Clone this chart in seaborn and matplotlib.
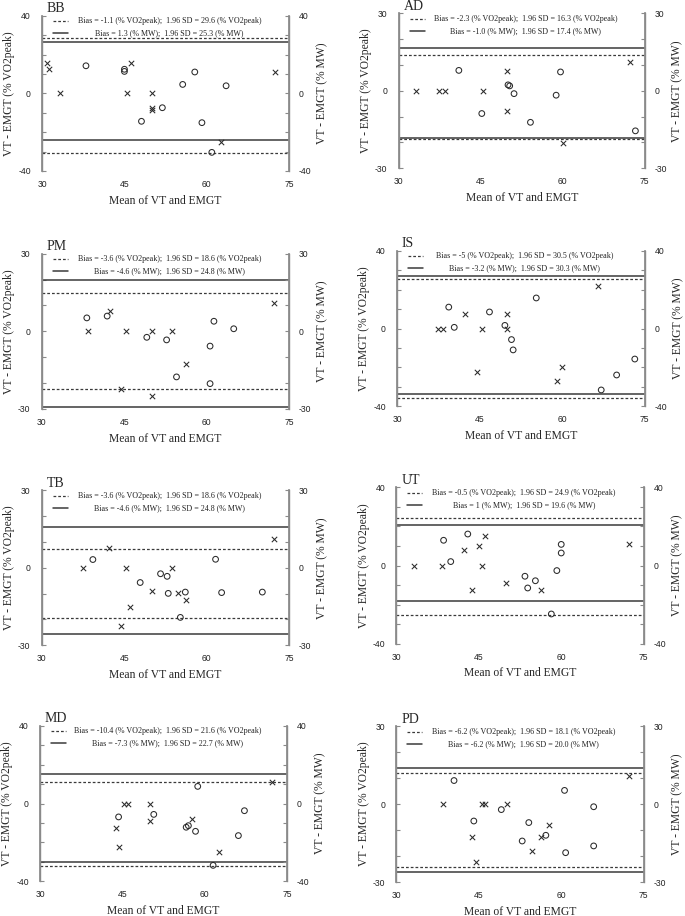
import matplotlib
matplotlib.use("Agg")
import matplotlib.pyplot as plt
import seaborn as sns
import pandas as pd

sns.set_theme(style="ticks")
plt.rcParams['font.family'] = ['Liberation Serif', 'DejaVu Serif']

# ---------------- data ----------------
panels = ["BB", "AD", "PM", "IS", "TB", "UT", "MD", "PD"]
y_limits = [40, 30, 30, 40, 30, 40, 40, 30]
x_ticks = [30, 45, 60, 75]

# crosses
bb_x_mean = [30.9, 31.3, 33.3, 45.5, 46.2, 50.1, 50.1, 50.1, 62.5, 72.4]
bb_x_diff = [15.8, 12.5, 0, 0, 15.5, 0, -7.4, -8.8, -24.9, 11.2]
ad_x_mean = [33.2, 37.3, 38.4, 45.4, 49.9, 49.9, 60.0, 72.4]
ad_x_diff = [0, 0, 0, 0, 7.7, -7.7, -20.1, 11.0]
pm_x_mean = [38.5, 42.4, 44.4, 45.4, 50.0, 50.0, 53.7, 56.2, 72.2]
pm_x_diff = [0, 7.7, -22.4, 0, 0, -25.1, 0, -12.5, 11.1]
is_x_mean = [37.4, 38.4, 42.4, 44.5, 45.4, 49.9, 49.9, 59.1, 59.9, 66.6]
is_x_diff = [0, 0, 7.6, -22.4, 0, 7.6, 0, -27.2, -20.0, 22.0]
tb_x_mean = [37.5, 42.2, 44.4, 45.4, 46.1, 50.0, 53.7, 54.8, 56.2, 72.2]
tb_x_diff = [0, 7.8, -22.4, 0, -15.3, -9.1, 0, -9.9, -12.6, 11.2]
ut_x_mean = [33.3, 38.4, 42.3, 43.8, 45.0, 45.5, 46.2, 49.9, 56.3, 72.3]
ut_x_diff = [0, 0, 7.8, -12.4, 10.0, 0, 15.1, -9.0, -12.4, 11.0]
md_x_mean = [43.8, 44.4, 45.3, 46.1, 50.0, 50.0, 57.6, 62.5, 72.2]
md_x_diff = [-12.8, -22.4, 0, 0, 0, -9.0, -7.8, -24.9, 11.0]
pd_x_mean = [38.5, 43.8, 44.5, 45.5, 46.2, 50.1, 54.6, 56.3, 57.7, 72.3]
pd_x_diff = [0, -12.7, -22.4, 0, 0, 0, -18.2, -12.5, -7.9, 11.0]

# circles
bb_o_mean = [38.0, 45.0, 45.0, 48.1, 51.9, 55.6, 57.8, 59.1, 60.9, 63.5]
bb_o_diff = [14.2, 12.4, 11.3, -14.4, -7.4, 4.6, 11.0, -15.1, -30.4, 3.9]
ad_o_mean = [41.0, 45.2, 50.0, 50.3, 51.1, 54.1, 58.8, 59.6, 73.3]
ad_o_diff = [7.9, -8.8, 2.3, 1.9, -1.1, -12.2, -1.7, 7.3, -15.5]
pm_o_mean = [38.2, 41.9, 49.1, 52.7, 54.5, 60.6, 60.6, 61.3, 64.9]
pm_o_diff = [5.2, 5.9, -2.3, -3.3, -17.6, -5.7, -20.2, 3.9, 1.0]
is_o_mean = [39.4, 40.4, 46.8, 49.6, 50.8, 51.1, 55.3, 67.1, 69.9, 73.2]
is_o_diff = [11.0, 0.6, 8.5, 1.6, -5.7, -11.0, 15.7, -31.6, -23.9, -15.7]
tb_o_mean = [39.3, 47.9, 51.6, 52.8, 53.0, 55.2, 56.1, 61.6, 62.7, 70.1]
tb_o_diff = [3.2, -5.7, -2.3, -3.3, -9.9, -19.2, -9.4, 3.3, -9.6, -9.4]
ut_o_mean = [38.6, 39.9, 43.0, 53.4, 53.9, 55.3, 58.2, 59.2, 60.0, 60.0]
ut_o_diff = [12.9, 2.0, 16.1, -5.5, -11.5, -7.8, -24.8, -2.6, 6.4, 10.8]
md_o_mean = [44.3, 50.7, 56.6, 57.0, 58.3, 58.7, 61.5, 66.1, 67.2]
md_o_diff = [-6.9, -5.6, -12.2, -11.4, -14.3, 8.8, -31.8, -16.5, -3.7]
pd_o_mean = [40.5, 44.1, 49.1, 52.9, 54.1, 57.2, 60.6, 60.8, 65.9, 65.9]
pd_o_diff = [9.1, -6.5, -2.1, -14.2, -7.1, -12.0, 5.3, -18.7, -1.0, -16.1]

# limits of agreement (upper, lower)
loa_vo2 = [[28.5, -30.7], [14.0, -18.6], [14.8, -22.4], [25.5, -35.5],
           [7.2, -19.4], [24.4, -25.4], [11.2, -32.0], [11.9, -24.3]]
loa_mw = [[26.6, -24.0], [16.4, -18.4], [20.0, -29.4], [27.1, -33.5],
          [15.7, -25.5], [20.6, -18.4], [15.4, -30.0], [13.8, -26.2]]

# legend values
bias_vo2 = ["-1.1", "-2.3", "-3.6", "-5", "-3.6", "-0.5", "-10.4", "-6.2"]
sd_vo2 = ["29.6", "16.3", "18.6", "30.5", "18.6", "24.9", "21.6", "18.1"]
bias_mw = ["1.3", "-1.0", "-4.6", "-3.2", "-4.6", "1", "-7.3", "-6.2"]
sd_mw = ["25.3", "17.4", "24.8", "30.3", "24.8", "19.6", "22.7", "20.0"]

x_means = [bb_x_mean, ad_x_mean, pm_x_mean, is_x_mean, tb_x_mean, ut_x_mean, md_x_mean, pd_x_mean]
x_diffs = [bb_x_diff, ad_x_diff, pm_x_diff, is_x_diff, tb_x_diff, ut_x_diff, md_x_diff, pd_x_diff]
o_means = [bb_o_mean, ad_o_mean, pm_o_mean, is_o_mean, tb_o_mean, ut_o_mean, md_o_mean, pd_o_mean]
o_diffs = [bb_o_diff, ad_o_diff, pm_o_diff, is_o_diff, tb_o_diff, ut_o_diff, md_o_diff, pd_o_diff]

# ---------------- layout ----------------
W, H = 685, 916
rects_px = [  # left, top, right, bottom in pixels
    (42.0, 15.7, 289.3, 171.0),
    (398.7, 13.3, 644.7, 168.3),
    (41.7, 253.7, 289.3, 409.0),
    (397.0, 250.7, 644.7, 406.3),
    (41.7, 490.3, 289.3, 645.3),
    (396.3, 487.3, 643.7, 643.7),
    (40.0, 725.7, 287.3, 881.3),
    (396.3, 726.3, 643.7, 882.0),
]

fig = plt.figure(figsize=(W / 100, H / 100), dpi=100)
fig.patch.set_facecolor("white")

spine_col = "#8a8a8a"
mark_col = "#2a2a2a"
line_col = "#3a3a3a"
tick_font = dict(family=["Liberation Sans", "DejaVu Sans"], size=6.2)

for i, name in enumerate(panels):
    l, t, r, b = rects_px[i]
    ax = fig.add_axes([l / W, 1 - b / H, (r - l) / W, (b - t) / H])
    ax.set_facecolor("white")
    lim = y_limits[i]

    # limits of agreement
    for v in loa_vo2[i]:
        ax.axhline(v, color=line_col, lw=0.9, ls=(0, (2.2, 1.6)), zorder=1)
    for v in loa_mw[i]:
        ax.axhline(v, color=line_col, lw=1.1, ls="-", zorder=1)

    dfx = pd.DataFrame({"mean": x_means[i], "diff": x_diffs[i]})
    dfo = pd.DataFrame({"mean": o_means[i], "diff": o_diffs[i]})
    sns.scatterplot(data=dfx, x="mean", y="diff", marker="x", s=15,
                    color=mark_col, linewidth=0.75, ax=ax, zorder=3)
    sns.scatterplot(data=dfo, x="mean", y="diff", marker="o", s=17,
                    facecolor="none", edgecolor=mark_col, linewidth=0.75,
                    ax=ax, zorder=3)

    ax.set_xlim(30, 75)
    ax.set_ylim(-lim, lim)
    ax.set_xticks(x_ticks)
    ax.set_xticklabels([str(v) for v in x_ticks], **tick_font)
    yt = list(range(-lim, lim + 1, 10))
    ax.set_yticks(yt)
    ax.set_yticklabels([str(v) if v in (-lim, 0, lim) else "" for v in yt], **tick_font)

    for s in ["top", "bottom"]:
        ax.spines[s].set_visible(False)
    for s in ["left", "right"]:
        ax.spines[s].set_visible(True)
        ax.spines[s].set_color(spine_col)
        ax.spines[s].set_linewidth(1.0)

    ax.tick_params(axis="x", length=0, pad=6.5, colors="#222")
    ax.tick_params(axis="y", direction="in", length=3, width=0.8, color=spine_col,
                   labelcolor="#222", pad=8, right=True, left=True)

    ax.set_xlabel("Mean of VT and EMGT", fontsize=8.4, labelpad=4)
    ax.set_ylabel("VT - EMGT (% VO2peak)", fontsize=8.4)
    ax.yaxis.set_label_coords(-0.108, 0.5)

    ax2 = ax.twinx()
    ax2.set_ylim(-lim, lim)
    ax2.set_yticks(yt)
    ax2.set_yticklabels([str(v) if v in (-lim, 0, lim) else "" for v in yt], **tick_font)
    ax2.tick_params(axis="y", direction="in", length=3, width=0.8, color=spine_col,
                    labelcolor="#222", pad=7)
    for s in ["top", "bottom"]:
        ax2.spines[s].set_visible(False)
    for s in ["left", "right"]:
        ax2.spines[s].set_color(spine_col)
    ax2.set_ylabel("VT - EMGT (% MW)", fontsize=8.4, rotation=90)
    ax2.yaxis.set_label_coords(1.11, 0.5)

    # title
    ax.text(0.02, 1.022, name, transform=ax.transAxes, fontsize=10,
            ha="left", va="baseline")

    # legend (manual, centered rows)
    y1, y2 = 0.965, 0.887
    ax.plot([0.045, 0.105], [y1, y1], transform=ax.transAxes, color=line_col,
            lw=0.9, ls=(0, (2.2, 1.6)))
    ax.plot([0.045, 0.105], [y2, y2], transform=ax.transAxes, color=line_col,
            lw=1.1, ls="-")
    ax.text(0.515, y1, f"Bias = {bias_vo2[i]} (% VO2peak);  1.96 SD = {sd_vo2[i]} (% VO2peak)",
            transform=ax.transAxes, fontsize=5.8, ha="center", va="center", color="#222")
    ax.text(0.515, y2, f"Bias = {bias_mw[i]} (% MW);  1.96 SD = {sd_mw[i]} (% MW)",
            transform=ax.transAxes, fontsize=5.8, ha="center", va="center", color="#222")

fig.savefig("out.png", dpi=100, facecolor="white")
